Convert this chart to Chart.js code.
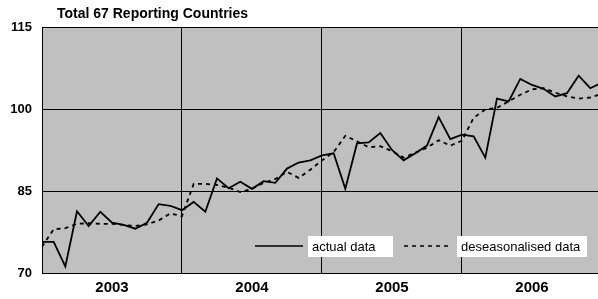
<!DOCTYPE html>
<html>
<head>
<meta charset="utf-8">
<script src="https://cdn.jsdelivr.net/npm/chart.js@4/dist/chart.umd.min.js"></script>
<style>
  html, body { margin: 0; padding: 0; background: #fff; }
  #wrap { width: 598px; height: 299px; position: relative; }
</style>
</head>
<body>
<div id="wrap"><canvas id="countries"></canvas></div>
<script>
var chartTitle = "Total 67 Reporting Countries";
var years = ["2003", "2004", "2005", "2006"];
var yTicks = [70, 85, 100, 115];

// monthly index, Jan 2003 onwards (last point is Jan 2007, cut off at the edge)
var actualData = [75.7, 75.7, 71.2, 81.3, 78.6, 81.2, 79.2, 78.8, 78.1, 79.2, 82.6, 82.3,
	81.5, 83.0, 81.2, 87.3, 85.5, 86.7, 85.4, 86.8, 86.5, 89.1, 90.2, 90.6,
	91.5, 91.9, 85.4, 93.7, 93.9, 95.6, 92.5, 90.6, 91.9, 93.3, 98.5, 94.5,
	95.3, 95.0, 91.1, 101.9, 101.4, 105.5, 104.4, 103.7, 102.3, 102.9, 106.1, 103.8,
	104.8];
var deseasonalisedData = [74.8, 78.0, 78.2, 79.0, 79.1, 79.0, 79.0, 78.8, 78.6, 78.9, 79.6, 80.9,
	80.4, 86.3, 86.3, 86.1, 85.6, 84.8, 85.4, 86.5, 87.2, 88.5, 87.4, 88.9,
	90.6, 92.1, 95.1, 94.1, 93.0, 93.2, 92.3, 91.1, 92.0, 92.9, 94.3, 93.3,
	94.2, 98.4, 99.9, 100.2, 101.4, 102.6, 103.6, 103.8, 103.0, 102.3, 101.9, 102.1,
	102.8];

var FONT = "'Liberation Sans', Arial, sans-serif";

function toPoints(arr) {
	return arr.map(function(v, i) { return { x: i, y: v }; });
}

var plotBackground = {
	id: "plotBackground",
	beforeDraw: function(chart) {
		var a = chart.chartArea, c = chart.ctx;
		c.save();
		c.fillStyle = "#c0c0c0";
		c.fillRect(a.left, a.top, a.right - a.left, a.bottom - a.top);
		c.restore();
	}
};

var titleText = {
	id: "titleText",
	afterDraw: function(chart) {
		var c = chart.ctx;
		c.save();
		c.fillStyle = "#000";
		c.font = "bold 14px " + FONT;
		c.textBaseline = "alphabetic";
		c.fillText(chartTitle, 57, 18);
		c.restore();
	}
};

// Excel style legend: line sample + white label box, inside the plot
var boxLegend = {
	id: "boxLegend",
	afterDatasetsDraw: function(chart) {
		var c = chart.ctx;
		var y = 246;
		var starts = [255, 404];
		var boxW = [85, 130];
		c.save();
		c.font = "13px " + FONT;
		chart.data.datasets.forEach(function(ds, i) {
			var x = starts[i];
			c.strokeStyle = "#000";
			c.lineWidth = 1.5;
			c.setLineDash(ds.borderDash || []);
			c.beginPath();
			c.moveTo(x, y);
			c.lineTo(x + 48, y);
			c.stroke();
			c.setLineDash([]);
			c.fillStyle = "#fff";
			c.fillRect(x + 53, y - 10, boxW[i], 21);
			c.fillStyle = "#000";
			c.textBaseline = "middle";
			c.fillText(ds.label, x + 57, y + 1);
		});
		c.restore();
	}
};

var ctx = document.getElementById("countries");

var chart = new Chart(ctx, {
	type: "line",
	data: {
		datasets: [
			{
				label: "actual data",
				data: toPoints(actualData),
				borderColor: "#000",
				borderWidth: 1.8,
				pointRadius: 0,
				tension: 0,
				fill: false
			},
			{
				label: "deseasonalised data",
				data: toPoints(deseasonalisedData),
				borderColor: "#000",
				borderWidth: 1.8,
				borderDash: [4, 4],
				pointRadius: 0,
				tension: 0,
				fill: false
			}
		]
	},
	options: {
		responsive: true,
		maintainAspectRatio: false,
		animation: false,
		layout: { padding: { top: 27, left: 0, right: 0, bottom: 0 } },
		plugins: {
			legend: { display: false },
			tooltip: { enabled: false },
			title: { display: false }
		},
		scales: {
			x: {
				type: "linear",
				min: 0,
				max: 47.66,
				afterBuildTicks: function(scale) {
					var t = [];
					for (var i = 0; i < years.length; i++) {
						if (i > 0) t.push({ value: i * 12 });
						t.push({ value: i * 12 + 6 });
					}
					scale.ticks = t;
				},
				afterFit: function(scale) { scale.height = 26; },
				grid: {
					drawTicks: false,
					color: function(c) {
						return (c.tick && c.tick.value % 12 === 0) ? "#000" : "rgba(0,0,0,0)";
					},
					lineWidth: 1
				},
				border: { display: true, color: "#000", width: 1 },
				ticks: {
					autoSkip: false,
					maxRotation: 0,
					padding: 6,
					color: "#000",
					font: { family: FONT, size: 15, weight: "bold" },
					callback: function(v) {
						return v % 12 === 6 ? years[(v - 6) / 12] : "";
					}
				}
			},
			y: {
				min: 70,
				max: 115,
				afterBuildTicks: function(scale) {
					scale.ticks = yTicks.map(function(v) { return { value: v }; });
				},
				afterFit: function(scale) { scale.width = 42; },
				grid: { drawTicks: false, color: "#000", lineWidth: 1 },
				border: { display: true, color: "#000", width: 1 },
				ticks: {
					padding: 10,
					color: "#000",
					font: { family: FONT, size: 13, weight: "bold" }
				}
			}
		}
	},
	plugins: [plotBackground, titleText, boxLegend]
});
</script>
</body>
</html>
